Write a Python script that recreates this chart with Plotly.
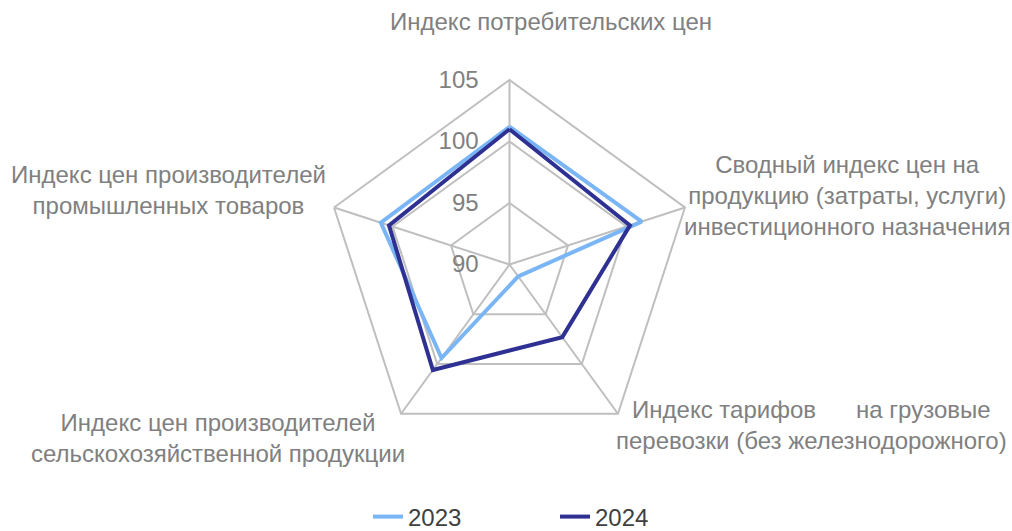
import plotly.graph_objects as go

categories = [
    "Индекс потребительских цен",
    "Сводный индекс цен на<br>продукцию (затраты, услуги)<br>инвестиционного назначения",
    "Индекс тарифов\u00a0\u00a0\u00a0\u00a0\u00a0\u00a0на грузовые<br>перевозки (без железнодорожного)",
    "Индекс цен производителей<br>сельскохозяйственной продукции",
    "Индекс цен производителей<br>промышленных товаров",
]
axis_keys = ["cpi", "invest", "freight", "agri", "industry"]
values_2023 = [101.2, 101.3, 91.2, 99.4, 101.0]
values_2024 = [101.0, 100.3, 97.3, 100.6, 100.3]
radial_ticks = [90, 95, 100, 105]

grey = "#bfbfbf"
label_color = "#808080"
font_family = "Liberation Sans, Arial, sans-serif"
FS = 24

fig = go.Figure()
for name, vals, color in [("2023", values_2023, "#7ab6f5"), ("2024", values_2024, "#2e3192")]:
    fig.add_trace(go.Scatterpolar(
        r=vals + vals[:1],
        theta=axis_keys + axis_keys[:1],
        mode="lines",
        name=name,
        line=dict(color=color, width=4),
    ))

W, H = 1012, 531
label_pos = [
    (551, 22),
    (847, 195),
    (811, 425),
    (218, 438),
    (168, 190),
]
annotations = []
for text, (px, py) in zip(categories, label_pos):
    annotations.append(dict(
        text=text, x=px / W, y=1 - py / H, xref="paper", yref="paper",
        showarrow=False, xanchor="center", yanchor="middle", align="center",
        font=dict(family=font_family, size=FS, color=label_color),
    ))

cx, cy, R = 509.5, 264.5, 184.5
fig.update_layout(
    width=W, height=H,
    margin=dict(l=0, r=0, t=0, b=0, autoexpand=False),
    paper_bgcolor="white",
    plot_bgcolor="white",
    font=dict(family=font_family),
    polar=dict(
        domain=dict(x=[(cx - R) / W, (cx + R) / W], y=[1 - (cy + R) / H, 1 - (cy - R) / H]),
        bgcolor="white",
        gridshape="linear",
        angularaxis=dict(
            rotation=90, direction="clockwise",
            showticklabels=False, ticks="",
            showline=True, linecolor=grey, linewidth=2,
            gridcolor=grey, gridwidth=2,
            categoryorder="array", categoryarray=axis_keys,
        ),
        radialaxis=dict(
            range=[90, 105], tickvals=radial_ticks, angle=90, tickangle=90,
            side="counterclockwise",
            showline=False, ticks="outside", ticklen=22, tickcolor="rgba(0,0,0,0)",
            gridcolor=grey, gridwidth=2,
            tickfont=dict(family=font_family, size=FS, color=label_color),
        ),
    ),
    legend=dict(
        orientation="h", x=368 / W, xanchor="left", y=-0.016, yanchor="bottom",
        font=dict(family=font_family, size=FS, color="#404040"),
        entrywidth=142, entrywidthmode="pixels",
    ),
    annotations=annotations,
)

fig.write_html(
    "out.html",
    config={"displayModeBar": False},
    post_script="document.body.style.margin='0';document.body.style.padding='0';",
)
